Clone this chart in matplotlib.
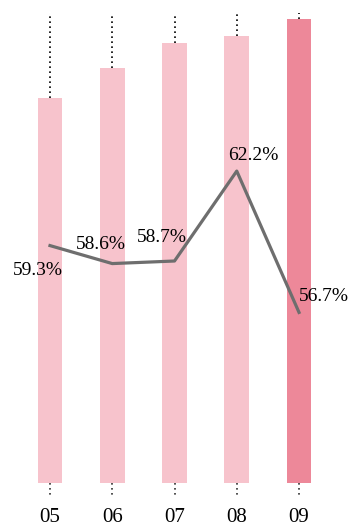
import matplotlib.pyplot as plt
import numpy as np

plt.rcParams['font.family'] = ['Liberation Serif', 'DejaVu Serif']

years = ['05', '06', '07', '08', '09']
bar_values = [385, 415, 440, 447, 464]
ratio = [59.3, 58.6, 58.7, 62.2, 56.7]
ratio_labels = ['59.3%', '58.6%', '58.7%', '62.2%', '56.7%']

light = '#f7c3cc'
dark = '#ed8899'
colors = [light] * 4 + [dark]

fig = plt.figure(figsize=(3.5, 5.28), dpi=100)
ax = fig.add_axes([0, 0, 1, 1])
x = np.arange(len(years))

ax.set_xlim(-0.803, 4.819)
ax.set_ylim(-45, 483)

# dotted guides above and below each bar
for xi, v in zip(x, bar_values):
    ax.plot([xi, xi], [v, 470], ls=(0, (1, 2)), color='black', lw=1.2, zorder=1)
    ax.plot([xi, xi], [0, -14], ls=(0, (1, 2)), color='#333333', lw=1.2, zorder=1)

ax.bar(x, bar_values, width=0.40, color=colors, zorder=2)

for xi, lab in zip(x, years):
    ax.text(xi, -34, lab, ha='center', va='center', fontsize=15, color='black')

ax.axis('off')

ax2 = ax.twinx()
ax2.set_ylim(48.311, 68.856)
ax2.plot(x, ratio, color='#6e6e6e', lw=2.3, zorder=3)
ax2.axis('off')

offsets = [(-0.19, -0.95), (-0.19, 0.75), (-0.21, 0.9), (0.27, 0.6), (0.4, 0.6)]
for xi, v, lab, (dx, dy) in zip(x, ratio, ratio_labels, offsets):
    ax2.text(xi + dx, v + dy, lab, ha='center', va='center', fontsize=14, color='black')

fig.savefig('out.png', dpi=100)
